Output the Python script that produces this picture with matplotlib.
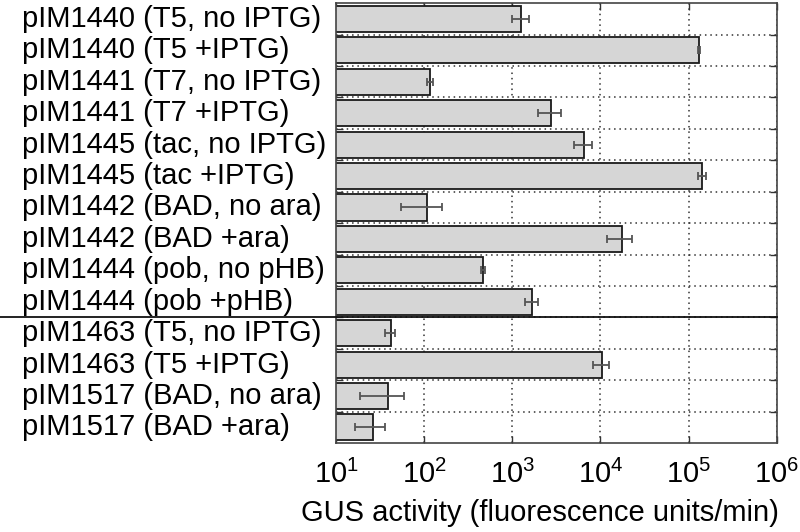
import numpy as np
import matplotlib
matplotlib.use("Agg")
import matplotlib.pyplot as plt
import matplotlib.transforms as mtransforms
from matplotlib.ticker import LogLocator, NullLocator, FixedLocator

plt.rcParams['font.family'] = ['Liberation Sans', 'DejaVu Sans']
plt.rcParams['mathtext.fontset'] = 'custom'
plt.rcParams['mathtext.rm'] = 'Liberation Sans'

# --- Data ---
labels = [
    "pIM1440 (T5, no IPTG)",
    "pIM1440 (T5 +IPTG)",
    "pIM1441 (T7, no IPTG)",
    "pIM1441 (T7 +IPTG)",
    "pIM1445 (tac, no IPTG)",
    "pIM1445 (tac +IPTG)",
    "pIM1442 (BAD, no ara)",
    "pIM1442 (BAD +ara)",
    "pIM1444 (pob, no pHB)",
    "pIM1444 (pob +pHB)",
    "pIM1463 (T5, no IPTG)",
    "pIM1463 (T5 +IPTG)",
    "pIM1517 (BAD, no ara)",
    "pIM1517 (BAD +ara)",
]
activity = [1260, 131000, 117, 2750, 6500, 143000, 107, 17400,
            466, 1670, 41.7, 10300, 38.5, 26]
errors = [270, 3000, 8, 800, 1500, 16000, 52, 5500,
          20, 280, 5.5, 2100, 20, 9.5]
split_after = 10  # horizontal separator below the 10th row

fig = plt.figure(figsize=(8, 5.32), dpi=100)
ax_rect = [0.42, 0.167, 0.551, 0.827]
ax = fig.add_axes(ax_rect)

y = np.arange(len(labels))
ax.barh(y, activity, height=0.83, color='#d6d6d6', edgecolor='#1a1a1a',
        linewidth=1.3, zorder=2)
ax.errorbar(activity, y, xerr=errors, fmt='none', ecolor='#555555',
            elinewidth=1.3, capsize=3, capthick=1.3, zorder=3)

ax.set_xscale('log')
ax.set_xlim(10, 1e6)
ax.set_ylim(len(labels) - 0.5, -0.5)

ax.xaxis.set_major_locator(LogLocator(base=10, numticks=10))
ax.xaxis.set_minor_locator(NullLocator())

# grid lines sit between the rows
ax.yaxis.set_major_locator(FixedLocator(np.arange(0.5, len(labels) - 1, 1.0)))
ax.set_yticklabels([])

ax.grid(True, which='major', linestyle=(0, (1, 2.5)), color='#333333',
        linewidth=1.1, zorder=0)
ax.set_axisbelow(True)

ax.tick_params(axis='both', which='major', direction='in', length=5,
               width=1, top=True, right=True, color='#333333')
ax.tick_params(axis='x', labelsize=21, pad=12)

for sp in ax.spines.values():
    sp.set_color('#444444')
    sp.set_linewidth(1.2)

# left-aligned row labels
trans = mtransforms.blended_transform_factory(ax.transAxes, ax.transData)
x_lab = -(0.42 - 22 / 800) / ax_rect[2]
for yi, lab in zip(y, labels):
    ax.text(x_lab, yi, lab, transform=trans, ha='left', va='center',
            fontsize=21, clip_on=False)

ax.set_xlabel("GUS activity (fluorescence units/min)", fontsize=21)
ax.xaxis.set_label_coords(0.463, -0.128)

# separator line running out into the label area
x0 = -0.42 / ax_rect[2]
ax.plot([x0, 1.0], [split_after - 0.5, split_after - 0.5], color='#111111',
        linewidth=1.3, transform=trans, clip_on=False, zorder=4)

fig.savefig("out.png", dpi=100)
